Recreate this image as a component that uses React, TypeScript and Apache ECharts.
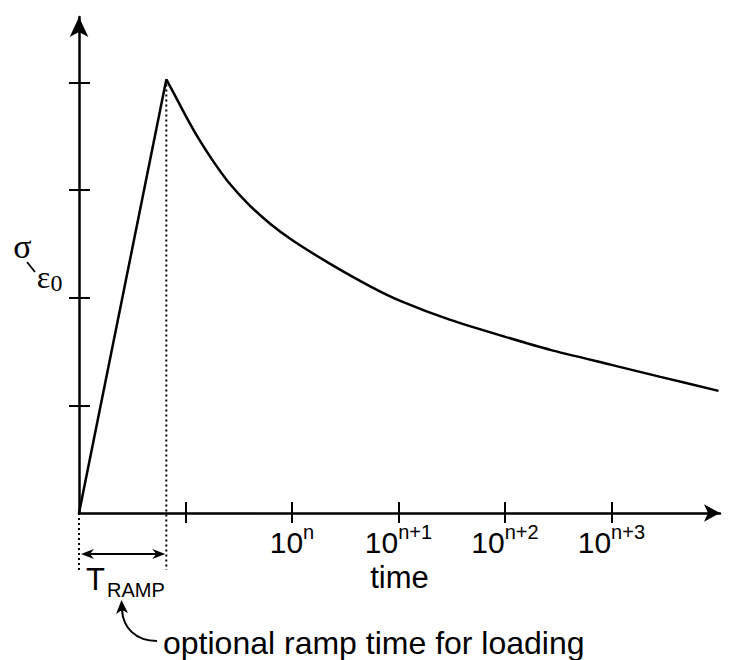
import React, { useEffect, useRef } from 'react';
import * as echarts from 'echarts';

// Schematic stress-relaxation curve (arbitrary units)
const rampTimes = [0, 0.82];
const rampValues = [0, 4.03];
const decayTimes = [0.82, 0.912, 1.006, 1.118, 1.25, 1.4, 1.588, 1.795, 2.011, 2.359, 2.735, 3.017, 3.487, 4.004, 4.427, 5.0, 5.46, 6.006];
const decayValues = [4.03, 3.86, 3.684, 3.488, 3.284, 3.079, 2.874, 2.688, 2.53, 2.316, 2.107, 1.972, 1.795, 1.637, 1.516, 1.377, 1.265, 1.135];
const xTickValues = [1, 2, 3, 4, 5];
const xLabelValues = [2, 3, 4, 5];
const xLabelExponents = ['n', 'n+1', 'n+2', 'n+3'];
const yTickValues = [1, 2, 3, 4];
const xMax = 6.02;
const yMax = 4.61;

export default function App() {
  const ref = useRef<HTMLDivElement>(null);
  useEffect(() => {
    document.body.style.margin = '0';
    const chart = echarts.init(ref.current as HTMLDivElement, null, { renderer: 'svg' });
    const font = "'Liberation Sans', Arial, Helvetica, sans-serif";
    const serif = "'Liberation Serif', 'DejaVu Serif', serif";
    const black = '#000';
    const option: any = {
      animation: false,
      backgroundColor: '#fff',
      grid: { left: 79, top: 17, width: 641, height: 496, containLabel: false },
      xAxis: [
        {
          type: 'value', min: 0, max: xMax,
          axisLine: { show: true, symbol: ['none', 'arrow'], symbolSize: [13, 16], lineStyle: { color: black, width: 2.5 } },
          axisTick: { show: true, customValues: xTickValues, length: 10, lineStyle: { color: black, width: 2 } },
          axisLabel: {
            show: true, customValues: xLabelValues, margin: 9,
            formatter: (v: number) => `{b|10}{s|${xLabelExponents[xLabelValues.indexOf(v)] ?? ''}}`,
            rich: {
              b: { fontSize: 30, fontFamily: font, color: black },
              s: { fontSize: 20, fontFamily: font, color: black, padding: [0, 0, 20, 0] },
            },
          },
          splitLine: { show: false },
          name: 'time', nameLocation: 'middle', nameGap: 45,
          nameTextStyle: { fontSize: 31, fontFamily: font, color: black },
        },
        {
          type: 'value', min: 0, max: xMax, position: 'bottom',
          axisLine: { show: false },
          axisTick: { show: true, inside: true, customValues: xTickValues, length: 11, lineStyle: { color: black, width: 2 } },
          axisLabel: { show: false },
          splitLine: { show: false },
        },
      ],
      yAxis: [
        {
          type: 'value', min: 0, max: yMax,
          axisLine: { show: true, symbol: ['none', 'arrow'], symbolSize: [14, 20], lineStyle: { color: black, width: 2.5 } },
          axisTick: { show: true, customValues: yTickValues, length: 10, lineStyle: { color: black, width: 2 } },
          axisLabel: { show: false },
          splitLine: { show: false },
        },
        {
          type: 'value', min: 0, max: yMax, position: 'left',
          axisLine: { show: false },
          axisTick: { show: true, inside: true, customValues: yTickValues, length: 11, lineStyle: { color: black, width: 2 } },
          axisLabel: { show: false },
          splitLine: { show: false },
        },
      ],
      series: [
        {
          type: 'line', name: 'ramp', xAxisIndex: 0, yAxisIndex: 0,
          data: rampTimes.map((t, i) => [t, rampValues[i]]),
          showSymbol: false, symbol: 'none', clip: false,
          lineStyle: { color: black, width: 2.5 },
        },
        {
          type: 'line', name: 'relaxation', xAxisIndex: 0, yAxisIndex: 0,
          data: decayTimes.map((t, i) => [t, decayValues[i]]),
          showSymbol: false, symbol: 'none', smooth: 0.2, clip: false,
          lineStyle: { color: black, width: 2.5 },
        },
      ],
    };
    chart.setOption(option);

    const o = chart.convertToPixel({ gridIndex: 0 }, [0, 0]) as number[];
    const p = chart.convertToPixel({ gridIndex: 0 }, [rampTimes[1], rampValues[1]]) as number[];
    const ya = o[1] + 41;
    const dotted = { stroke: black, lineWidth: 2, lineDash: [2, 3] };
    const solid = { stroke: black, lineWidth: 2 };
    chart.setOption({
      graphic: [
        { type: 'line', shape: { x1: p[0], y1: p[1], x2: p[0], y2: o[1] + 57 }, style: dotted, silent: true },
        { type: 'line', shape: { x1: o[0], y1: o[1], x2: o[0], y2: o[1] + 60 }, style: dotted, silent: true },
        { type: 'line', shape: { x1: o[0] + 6, y1: ya, x2: p[0] - 6, y2: ya }, style: solid, silent: true },
        {
          type: 'polygon',
          shape: { points: [[o[0] + 2, ya], [o[0] + 15, ya - 5], [o[0] + 11, ya], [o[0] + 15, ya + 5]] },
          style: { fill: black }, silent: true,
        },
        {
          type: 'polygon',
          shape: { points: [[p[0] - 1, ya], [p[0] - 14, ya - 5], [p[0] - 10, ya], [p[0] - 14, ya + 5]] },
          style: { fill: black }, silent: true,
        },
        {
          type: 'text', x: o[0] + 7, y: 579,
          style: { text: 'T', font: `31px ${font}`, fill: black, align: 'left', verticalAlign: 'middle' },
        },
        {
          type: 'text', x: o[0] + 28, y: 590,
          style: { text: 'RAMP', font: `20px ${font}`, fill: black, align: 'left', verticalAlign: 'middle' },
        },
        {
          type: 'bezierCurve',
          shape: { x1: 157, y1: 641, cpx1: 135, cpy1: 641, cpx2: 123, cpy2: 627, x2: 122, y2: 610 },
          style: { stroke: black, lineWidth: 2, fill: 'none' }, silent: true,
        },
        {
          type: 'polygon',
          shape: { points: [[121.5, 600], [116, 614], [122, 610], [128, 613]] },
          style: { fill: black }, silent: true,
        },
        {
          type: 'text', x: 163, y: 643,
          style: { text: 'optional ramp time for loading', font: `32px ${font}`, fill: black, align: 'left', verticalAlign: 'middle' },
        },
        {
          type: 'text', x: 22.5, y: 246,
          style: { text: 'σ', font: `34px ${serif}`, fill: black, align: 'center', verticalAlign: 'middle' },
        },
        { type: 'line', shape: { x1: 27, y1: 262, x2: 35, y2: 272 }, style: { stroke: black, lineWidth: 1.8 }, silent: true },
        {
          type: 'text', x: 43.5, y: 277,
          style: { text: 'ε', font: `32px ${serif}`, fill: black, align: 'center', verticalAlign: 'middle' },
        },
        {
          type: 'text', x: 56.5, y: 283,
          style: { text: '0', font: `24px ${serif}`, fill: black, align: 'center', verticalAlign: 'middle' },
        },
      ],
    });
    return () => chart.dispose();
  }, []);
  return <div ref={ref} style={{ width: 729, height: 660 }} />;
}
